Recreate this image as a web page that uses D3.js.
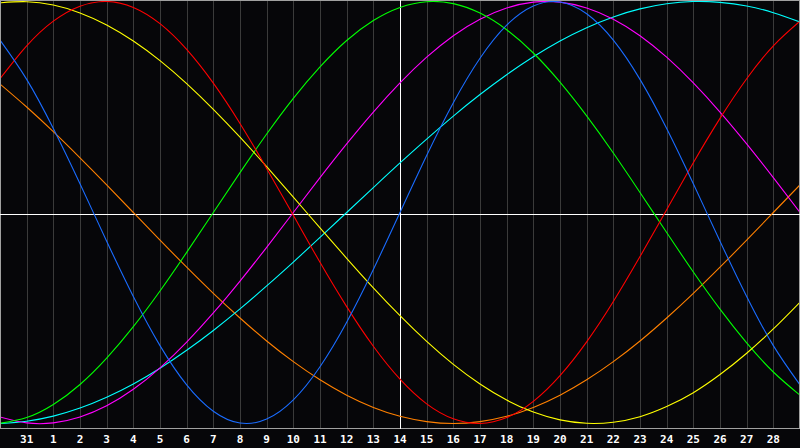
<!DOCTYPE html>
<html><head><meta charset="utf-8">
<script src="https://cdn.jsdelivr.net/npm/d3@7"></script>
<style>html,body{margin:0;padding:0;background:#060609;overflow:hidden}</style>
</head><body>
<svg id="c" width="800" height="448"></svg>
<script>
// Day labels under grid lines 1..29 (grid line 0 is the left edge)
const dayLabels = ["31","1","2","3","4","5","6","7","8","9","10","11","12","13","14","15","16","17","18","19","20","21","22","23","24","25","26","27","28"];
const todayIndex = 15; // "14"
const days = d3.range(0, 31);

// Series values read at each grid line (index 0..30), range -1..1
const physical = [0.817,0.631,0.398,0.136,-0.136,-0.398,-0.631,-0.817,-0.942,-0.998,-0.979,-0.888,-0.731,-0.520,-0.270,0,0.270,0.520,0.731,0.888,0.979,0.998,0.942,0.817,0.631,0.398,0.136,-0.136,-0.398,-0.631,-0.817];
const emotional = [0.634,0.790,0.907,0.978,1.000,0.972,0.895,0.773,0.613,0.422,0.209,-0.013,-0.236,-0.446,-0.634,-0.790,-0.907,-0.978,-1.000,-0.972,-0.895,-0.773,-0.613,-0.422,-0.209,0.013,0.236,0.446,0.634,0.790,0.907];
const intellectual = [-0.999,-0.972,-0.910,-0.815,-0.690,-0.541,-0.372,-0.189,0,0.189,0.372,0.541,0.690,0.815,0.910,0.972,0.999,0.990,0.945,0.866,0.756,0.618,0.458,0.282,0.095,-0.095,-0.282,-0.458,-0.618,-0.756,-0.866];
const intuitive = [-0.969,-0.997,-0.997,-0.969,-0.916,-0.838,-0.736,-0.614,-0.476,-0.325,-0.165,0,0.165,0.325,0.476,0.614,0.736,0.838,0.916,0.969,0.997,0.997,0.969,0.916,0.838,0.736,0.614,0.476,0.325,0.165,0];
const aesthetic = [0.994,0.999,0.983,0.946,0.889,0.813,0.720,0.611,0.489,0.357,0.217,0.073,-0.073,-0.217,-0.357,-0.489,-0.611,-0.720,-0.813,-0.889,-0.946,-0.983,-0.999,-0.994,-0.968,-0.920,-0.854,-0.768,-0.667,-0.552,-0.425];
const awareness = [0.609,0.500,0.383,0.259,0.131,0,-0.131,-0.259,-0.383,-0.500,-0.609,-0.707,-0.793,-0.866,-0.924,-0.966,-0.991,-1.000,-0.991,-0.966,-0.924,-0.866,-0.793,-0.707,-0.609,-0.500,-0.383,-0.259,-0.131,0,0.131];
const spiritual = [-1.000,-0.989,-0.965,-0.927,-0.876,-0.813,-0.738,-0.653,-0.559,-0.457,-0.348,-0.235,-0.118,0,0.118,0.235,0.348,0.457,0.559,0.653,0.738,0.813,0.876,0.927,0.965,0.989,1.000,0.996,0.979,0.947,0.903];

const series = [
  {name:"awareness", values:awareness, color:"#ff8000"},
  {name:"spiritual", values:spiritual, color:"#00ffff"},
  {name:"intuitive", values:intuitive, color:"#ff00ff"},
  {name:"intellectual", values:intellectual, color:"#00ff00"},
  {name:"aesthetic", values:aesthetic, color:"#ffff00"},
  {name:"emotional", values:emotional, color:"#ff0000"},
  {name:"physical", values:physical, color:"#1a6cff"}
];

const W = 800, H = 448, plotBottom = 428.5;
const x = d3.scaleLinear().domain([0, 30]).range([0, W]);
const y = d3.scaleLinear().domain([-1, 1]).range([423.5, 1.5]);

const svg = d3.select("#c");
svg.append("rect").attr("width", W).attr("height", H).attr("fill", "#060609");

// grid lines
svg.append("g").selectAll("line").data(d3.range(1, 30).filter(d => d !== todayIndex)).join("line")
  .attr("x1", d => Math.round(x(d)) + 0.5).attr("x2", d => Math.round(x(d)) + 0.5)
  .attr("y1", 0).attr("y2", plotBottom)
  .attr("stroke", "#3a3a3a").attr("stroke-width", 1).attr("shape-rendering", "crispEdges");

// frame
const frame = svg.append("g").attr("stroke", "#a0a0a0").attr("stroke-width", 1).attr("shape-rendering", "crispEdges");
frame.append("line").attr("x1", 0).attr("x2", W).attr("y1", 0.5).attr("y2", 0.5);
frame.append("line").attr("x1", 0.5).attr("x2", 0.5).attr("y1", 0).attr("y2", plotBottom);
frame.append("line").attr("x1", W - 0.5).attr("x2", W - 0.5).attr("y1", 0).attr("y2", plotBottom);
frame.append("line").attr("x1", 0).attr("x2", W).attr("y1", plotBottom).attr("y2", plotBottom);

// today line and zero line
svg.append("line").attr("x1", x(todayIndex) + 0.5).attr("x2", x(todayIndex) + 0.5)
  .attr("y1", 0).attr("y2", plotBottom).attr("stroke", "#ffffff").attr("shape-rendering", "crispEdges");
svg.append("line").attr("x1", 0).attr("x2", W).attr("y1", 214.5).attr("y2", 214.5)
  .attr("stroke", "#ffffff").attr("shape-rendering", "crispEdges");

// curves
const line = d3.line().x((d, i) => x(days[i])).y(d => y(d)).curve(d3.curveNatural);
const clip = svg.append("clipPath").attr("id", "pc").append("rect").attr("x", 1).attr("y", 1).attr("width", W - 2).attr("height", 426);
svg.append("g").attr("clip-path", "url(#pc)").selectAll("path").data(series).join("path")
  .attr("d", d => line(d.values)).attr("fill", "none").attr("stroke", d => d.color)
  .attr("stroke-width", 1.1);

// labels
svg.append("g").selectAll("text").data(dayLabels).join("text")
  .attr("x", (d, i) => x(i + 1)).attr("y", 443)
  .attr("text-anchor", "middle").attr("fill", "#ffffff")
  .attr("font-family", "'DejaVu Sans Mono', monospace").attr("font-weight", "bold").attr("font-size", 11)
  .text(d => d);
</script>
</body></html>
